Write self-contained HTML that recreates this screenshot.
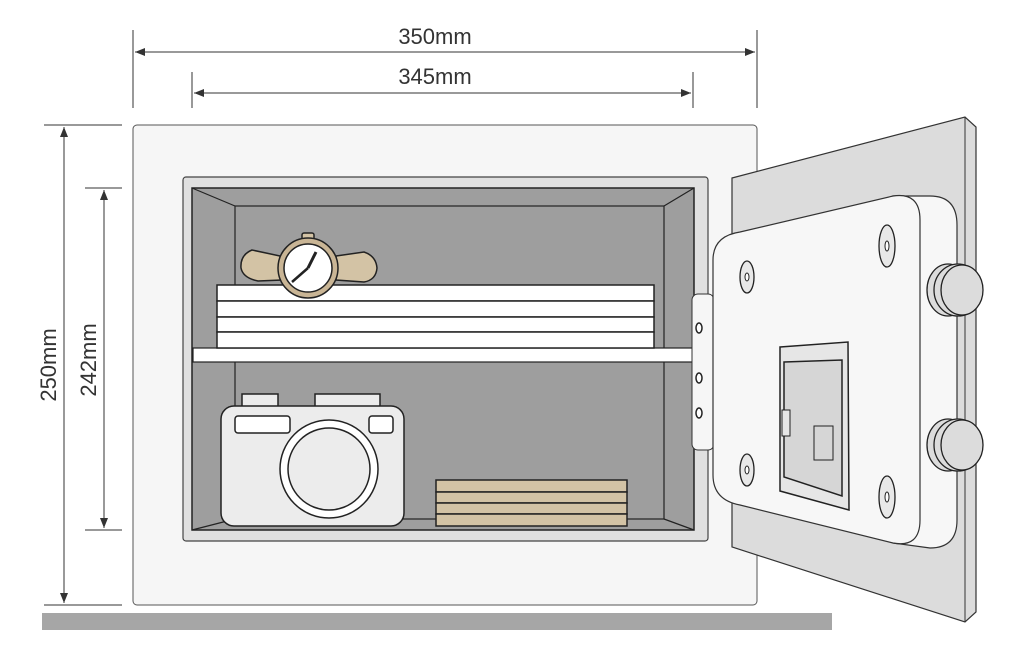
<!DOCTYPE html>
<html><head><style>body{margin:0;background:#fff}svg{display:block}text{font-family:"Liberation Sans",sans-serif;fill:#333}</style></head><body>
<svg width="1024" height="652" viewBox="0 0 1024 652" xmlns="http://www.w3.org/2000/svg">
<defs><marker id="a" markerWidth="10" markerHeight="8" refX="10" refY="4" orient="auto-start-reverse"><path d="M0,0 L10,4 L0,8 Z" fill="#333"/></marker></defs>
<g stroke="#333" stroke-width="1" fill="none">
<line x1="133" y1="30" x2="133" y2="108"/><line x1="757" y1="30" x2="757" y2="108"/>
<line x1="135" y1="52" x2="755" y2="52" marker-start="url(#a)" marker-end="url(#a)"/>
<line x1="192" y1="72" x2="192" y2="108"/><line x1="693" y1="72" x2="693" y2="108"/>
<line x1="194" y1="93" x2="691" y2="93" marker-start="url(#a)" marker-end="url(#a)"/>
<line x1="44" y1="125" x2="122" y2="125"/><line x1="44" y1="605" x2="122" y2="605"/>
<line x1="64" y1="127" x2="64" y2="603" marker-start="url(#a)" marker-end="url(#a)"/>
<line x1="85" y1="188" x2="122" y2="188"/><line x1="85" y1="530" x2="122" y2="530"/>
<line x1="104" y1="190" x2="104" y2="528" marker-start="url(#a)" marker-end="url(#a)"/>
</g>
<text x="435" y="44" font-size="22" text-anchor="middle">350mm</text>
<text x="435" y="84" font-size="22" text-anchor="middle">345mm</text>
<text transform="translate(56,365) rotate(-90)" font-size="22" text-anchor="middle">250mm</text>
<text transform="translate(96,360) rotate(-90)" font-size="22" text-anchor="middle">242mm</text>
<rect x="42" y="613" width="790" height="17" fill="#a6a6a6"/>
<!-- body -->
<rect x="133" y="125" width="624" height="480" rx="4" fill="#f6f6f6" stroke="#555" stroke-width="1"/>
<rect x="183" y="177" width="525" height="364" rx="3" fill="#e0e0e0" stroke="#444" stroke-width="1.2"/>
<rect x="192" y="188" width="502" height="342" fill="#9e9e9e" stroke="#222" stroke-width="1.5"/>
<rect x="235" y="206" width="429" height="313" fill="#9e9e9e" stroke="#222" stroke-width="1.2"/>
<g stroke="#222" stroke-width="1.2"><line x1="192" y1="188" x2="235" y2="206"/><line x1="694" y1="188" x2="664" y2="206"/><line x1="192" y1="530" x2="235" y2="519"/><line x1="694" y1="530" x2="664" y2="519"/></g>
<rect x="193" y="348" width="500" height="14" fill="#fff" stroke="#222" stroke-width="1.2"/>
<g fill="#fff" stroke="#222" stroke-width="1.5">
<rect x="217" y="285" width="437" height="16"/><rect x="217" y="301" width="437" height="16"/><rect x="217" y="317" width="437" height="15"/><rect x="217" y="332" width="437" height="16"/></g>
<!-- watch -->
<g stroke="#222" stroke-width="1.5">
<path d="M280,256 L252,250 Q240,255 241,268 Q243,278 258,281 L282,280 Z" fill="#d3c3a5"/>
<path d="M336,256 L364,252 Q376,256 377,268 Q376,280 364,282 L336,280 Z" fill="#d3c3a5"/>
<rect x="302" y="233" width="12" height="8" rx="2" fill="#d3c3a5"/>
<circle cx="308" cy="268" r="30" fill="#c9b595"/>
<circle cx="308" cy="268" r="24" fill="#fff"/>
<line x1="308" y1="268" x2="316" y2="252" stroke-width="3"/><line x1="308" y1="268" x2="292" y2="282" stroke-width="2.5"/>
</g>
<!-- camera -->
<g stroke="#222" stroke-width="1.5">
<rect x="242" y="394" width="36" height="14" fill="#ececec"/><rect x="315" y="394" width="65" height="14" fill="#ececec"/>
<rect x="221" y="406" width="183" height="120" rx="13" fill="#ececec"/>
<rect x="235" y="416" width="55" height="17" rx="3" fill="#fff"/><rect x="369" y="416" width="24" height="17" rx="3" fill="#fff"/>
<circle cx="329" cy="469" r="49" fill="#fff"/><circle cx="329" cy="469" r="41" fill="#ececec"/>
</g>
<g fill="#d3c3a5" stroke="#222" stroke-width="1.5">
<rect x="436" y="480" width="191" height="12"/><rect x="436" y="492" width="191" height="11"/><rect x="436" y="503" width="191" height="11"/><rect x="436" y="514" width="191" height="12"/></g>
<!-- hinge -->
<rect x="692" y="294" width="22" height="156" rx="6" fill="#f6f6f6" stroke="#333"/>
<g fill="#fff" stroke="#222" stroke-width="1.5"><ellipse cx="699" cy="328" rx="3" ry="5"/><ellipse cx="699" cy="378" rx="3" ry="5"/><ellipse cx="699" cy="413" rx="3" ry="5"/></g>
<!-- door -->
<polygon points="732,178 965,117 976,127 976,612 965,622 732,547" fill="#dcdcdc" stroke="#333" stroke-width="1.2"/>
<line x1="965" y1="117" x2="965" y2="622" stroke="#333"/>
<path d="M893,196 L930,196 Q957,196 957,225 L957,520 Q957,548 930,548 L893,543 Z" fill="#f7f7f7" stroke="#333" stroke-width="1.2"/>
<path d="M713,260 Q713,236 740,232 L893,196 Q920,192 920,220 L920,520 Q920,548 893,543 L740,505 Q713,500 713,475 Z" fill="#f7f7f7" stroke="#333" stroke-width="1.2"/>
<g fill="#e8e8e8" stroke="#222" stroke-width="1.3">
<ellipse cx="747" cy="277" rx="7" ry="16"/><ellipse cx="887" cy="246" rx="8" ry="21"/><ellipse cx="747" cy="470" rx="7" ry="16"/><ellipse cx="887" cy="497" rx="8" ry="21"/></g>
<g fill="#fff" stroke="#222"><ellipse cx="747" cy="277" rx="2" ry="4"/><ellipse cx="887" cy="246" rx="2" ry="5"/><ellipse cx="747" cy="470" rx="2" ry="4"/><ellipse cx="887" cy="497" rx="2" ry="5"/></g>
<!-- knobs -->
<g stroke="#222" stroke-width="1.3" fill="#dcdcdc">
<ellipse cx="948" cy="290" rx="21" ry="26"/><ellipse cx="958" cy="290" rx="24" ry="26"/><ellipse cx="962" cy="290" rx="21" ry="25"/>
<ellipse cx="948" cy="445" rx="21" ry="26"/><ellipse cx="958" cy="445" rx="24" ry="26"/><ellipse cx="962" cy="445" rx="21" ry="25"/>
</g>
<!-- keypad -->
<polygon points="780,347 848,342 849,510 780,491" fill="#e6e6e6" stroke="#222" stroke-width="1.5"/>
<polygon points="784,362 842,360 842,496 784,477" fill="#d6d6d6" stroke="#222" stroke-width="1.5"/>
<rect x="782" y="410" width="8" height="26" fill="#e6e6e6" stroke="#222"/>
<rect x="814" y="426" width="19" height="34" fill="#d6d6d6" stroke="#222"/>
</svg>
</body></html>
